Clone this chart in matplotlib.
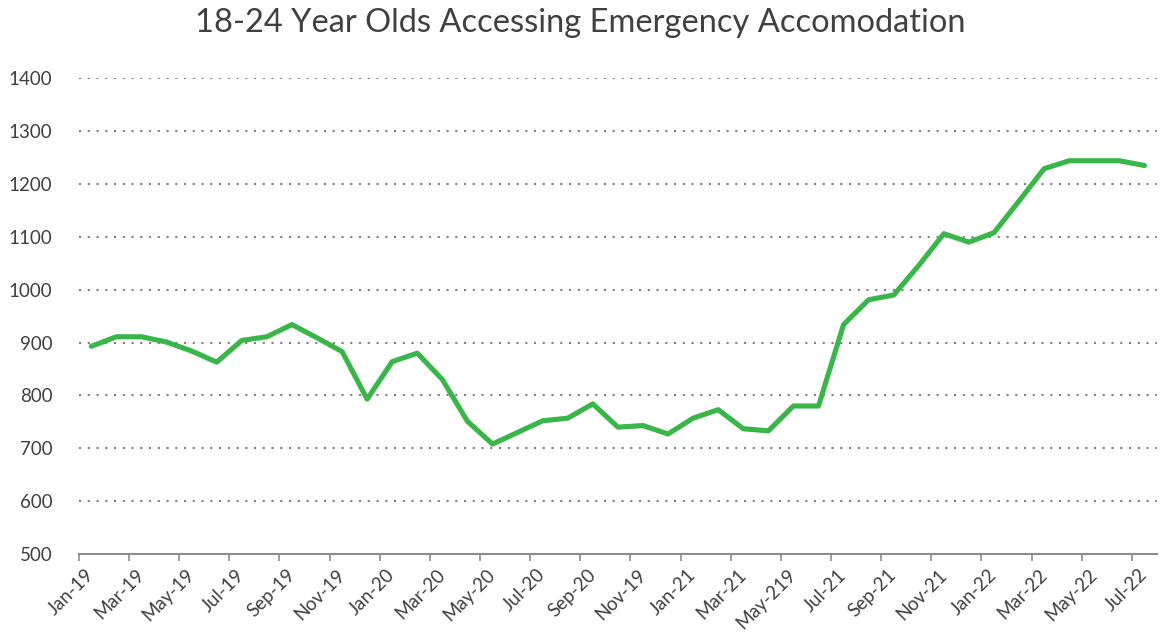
import matplotlib
matplotlib.use("Agg")
import matplotlib.pyplot as plt
from matplotlib.ticker import FixedLocator

plt.rcParams['font.family'] = ['Lato', 'DejaVu Sans']

title = "18-24 Year Olds Accessing Emergency Accomodation"

values = [893, 911, 911, 901, 884, 863, 904, 911, 934, 909, 883, 793, 864, 880,
          830, 751, 708, 730, 752, 757, 784, 740, 743, 727, 757, 773, 737, 733,
          780, 780, 934, 981, 990, 1046, 1106, 1090, 1108, 1168, 1229, 1244,
          1244, 1244, 1235]

tick_labels = ["Jan-19", "Mar-19", "May-19", "Jul-19", "Sep-19", "Nov-19",
               "Jan-20", "Mar-20", "May-20", "Jul-20", "Sep-20", "Nov-19",
               "Jan-21", "Mar-21", "May-219", "Jul-21", "Sep-21", "Nov-21",
               "Jan-22", "Mar-22", "May-22", "Jul-22"]

y_ticks = [500, 600, 700, 800, 900, 1000, 1100, 1200, 1300, 1400]

W, H = 1160, 637
fig = plt.figure(figsize=(W / 100, H / 100), dpi=100)
left, right, top, bottom = 78.8, 1157, 78.3, 554
ax = fig.add_axes([left / W, 1 - bottom / H, (right - left) / W, (bottom - top) / H])

x = list(range(len(values)))
ax.plot(x, values, color="#3AB54A", lw=3.7, solid_capstyle="round",
        solid_joinstyle="round", zorder=3)

ax.set_xlim(-0.5, len(values) - 0.5)
ax.set_ylim(500, 1400)

# gridlines
ax.set_yticks(y_ticks)
ax.yaxis.grid(True, color="#808080", linestyle=(0, (1, 3.2)), lw=1.5)
ax.set_axisbelow(True)
ax.tick_params(axis="y", length=0, pad=19, labelsize=13.5, labelcolor="#404040")

for s in ["left", "right", "top"]:
    ax.spines[s].set_visible(False)
ax.spines["bottom"].set_color("#8c8c8c")
ax.spines["bottom"].set_linewidth(1.5)
ax.spines["bottom"].set_zorder(4)

# x ticks: marks at boundaries, labels at category centres
label_pos = list(range(0, len(values), 2))
ax.xaxis.set_major_locator(FixedLocator([p - 0.5 for p in label_pos]))
ax.tick_params(axis="x", which="major", length=5, width=1.2, color="#8c8c8c",
               labelbottom=False)
ax.xaxis.set_minor_locator(FixedLocator(label_pos))
ax.set_xticks(label_pos, minor=True)
ax.set_xticklabels(tick_labels, minor=True, rotation=45, ha="right",
                   va="center", rotation_mode="anchor")
ax.tick_params(axis="x", which="minor", length=0, pad=13, labelsize=13.5,
               labelcolor="#404040")

fig.text(0.5, 1 - 23 / H, title, ha="center", va="center", fontsize=23.5,
         color="#404040")

fig.savefig("out.png", dpi=100)
